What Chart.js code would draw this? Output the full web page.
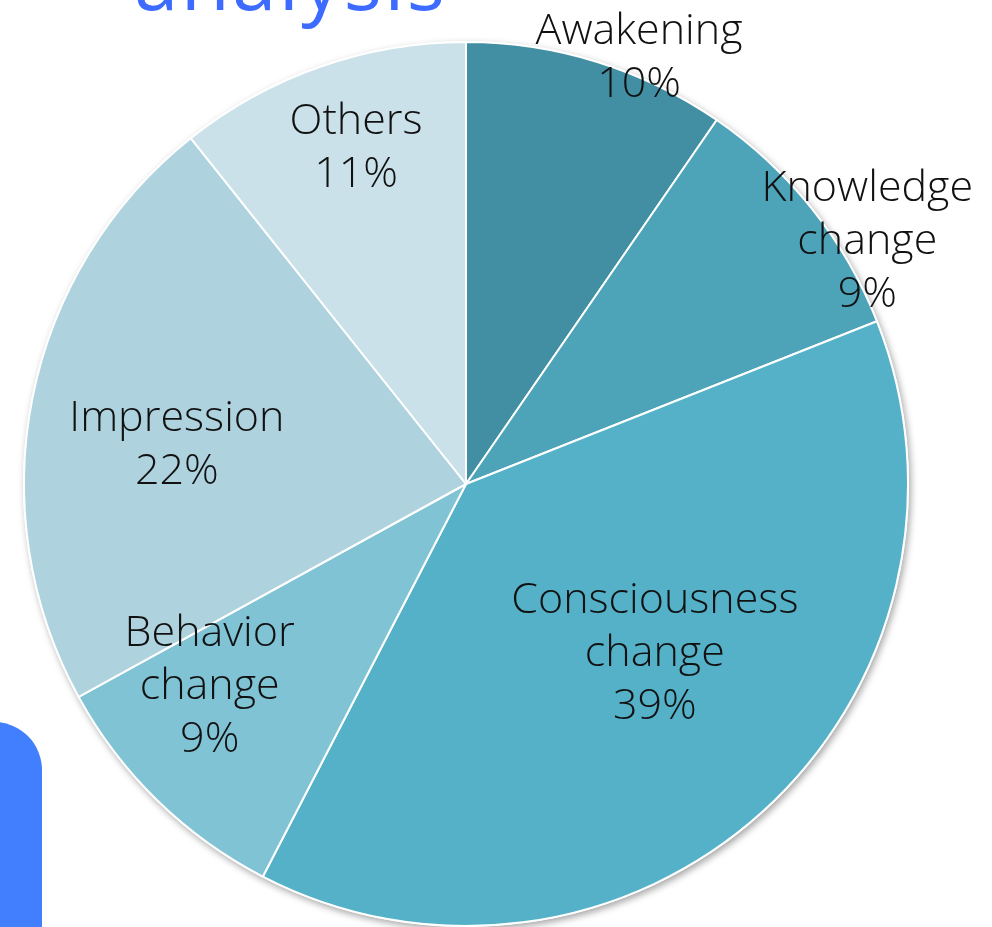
<!DOCTYPE html>
<html>
<head>
<meta charset="utf-8">
<script src="https://cdn.jsdelivr.net/npm/chart.js@4.4.1/dist/chart.umd.min.js"></script>
<style>
  html, body { margin: 0; padding: 0; background: #fff; overflow: hidden; }
  #wrap { position: relative; width: 992px; height: 927px; }
  #chartBox { position: absolute; left: 0; top: 0; width: 992px; height: 927px; }
  #title { position: absolute; left: 134px; top: -61px; font-family: "Open Sans", sans-serif; font-weight: 400;
           font-size: 80px; line-height: 80px; color: #3d6bff; letter-spacing: 2.3px; white-space: nowrap; }
  #tab { position: absolute; left: -6px; top: 722px; width: 48px; height: 260px; background: #427fff;
         border-top-right-radius: 48px; }
</style>
</head>
<body>
<div id="wrap">
  <div id="title">analysis</div>
  <div id="tab"></div>
  <div id="chartBox"><canvas id="c"></canvas></div>
</div>
<script>
const categories = ['Awakening', 'Knowledge change', 'Consciousness change', 'Behavior change', 'Impression', 'Others'];
const labelLines = [['Awakening'], ['Knowledge', 'change'], ['Consciousness', 'change'], ['Behavior', 'change'], ['Impression'], ['Others']];
const shares = [9.6, 9.4, 38.6, 9.4, 22.3, 10.7];
const sliceColors = ['#428fa4', '#4da3b8', '#54b1c8', '#80c3d5', '#aed2de', '#cae1e9'];

// label placement: fraction along slice angle, fraction of radius
const labelPlace = [
  { f: 0.64, r: 1.04 },
  { f: 0.72, r: 1.06 },
  { f: 0.457, r: 0.574 },
  { f: 0.716, r: 0.74 },
  { f: 0.454, r: 0.66 },
  { f: 0.53, r: 0.80 }
];

const shadowPlugin = {
  id: 'pieShadow',
  beforeDatasetsDraw(chart) {
    const arc = chart.getDatasetMeta(0).data[0];
    if (!arc) return;
    const { x, y, outerRadius } = arc.getProps(['x', 'y', 'outerRadius'], true);
    const ctx = chart.ctx;
    ctx.save();
    ctx.shadowColor = 'rgba(0,0,0,0.35)';
    ctx.shadowBlur = 7;
    ctx.shadowOffsetX = 2;
    ctx.shadowOffsetY = 3;
    ctx.fillStyle = '#ffffff';
    ctx.beginPath();
    ctx.arc(x, y, outerRadius + 1, 0, Math.PI * 2);
    ctx.fill();
    ctx.restore();
  }
};

const labelPlugin = {
  id: 'sliceLabels',
  afterDatasetsDraw(chart) {
    const meta = chart.getDatasetMeta(0);
    const data = chart.data.datasets[0].data;
    const total = data.reduce((a, b) => a + b, 0);
    const ctx = chart.ctx;
    ctx.save();
    ctx.font = '300 43px "Open Sans", sans-serif';
    ctx.fillStyle = '#111';
    ctx.textAlign = 'center';
    ctx.textBaseline = 'middle';
    const lh = 53;
    meta.data.forEach((arc, i) => {
      const p = arc.getProps(['x', 'y', 'startAngle', 'endAngle', 'outerRadius'], true);
      const pl = labelPlace[i];
      const th = p.startAngle + pl.f * (p.endAngle - p.startAngle);
      const cx = p.x + pl.r * p.outerRadius * Math.cos(th);
      const cy = p.y + pl.r * p.outerRadius * Math.sin(th);
      const lines = labelLines[i].concat([Math.round(data[i] * 100 / total) + '%']);
      const y0 = cy - (lines.length - 1) * lh / 2;
      lines.forEach((t, k) => ctx.fillText(t, cx, y0 + k * lh));
    });
    ctx.restore();
  }
};

new Chart(document.getElementById('c'), {
  type: 'pie',
  data: {
    labels: categories,
    datasets: [{
      data: shares,
      backgroundColor: sliceColors,
      borderColor: '#ffffff',
      borderWidth: 2
    }]
  },
  options: {
    responsive: true,
    maintainAspectRatio: false,
    animation: false,
    layout: { padding: { left: 23, right: 83, top: 41, bottom: 0 } },
    plugins: { legend: { display: false }, tooltip: { enabled: false }, title: { display: false } }
  },
  plugins: [shadowPlugin, labelPlugin]
});
</script>
</body>
</html>
